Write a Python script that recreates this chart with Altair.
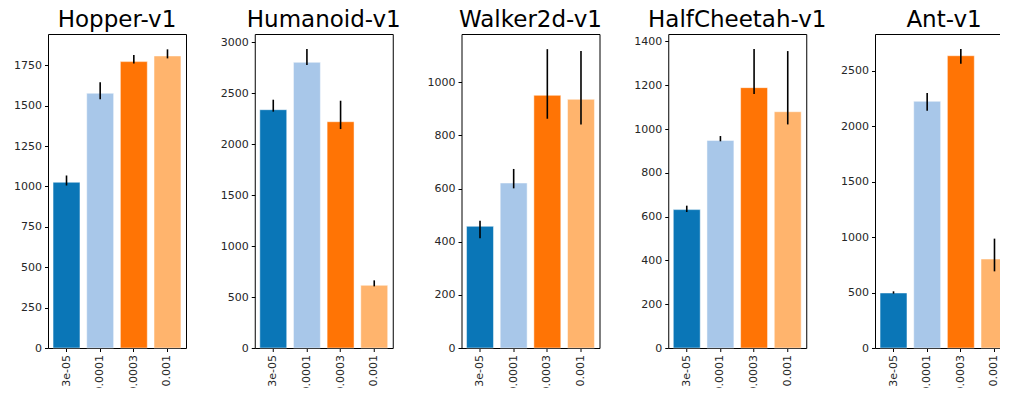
import altair as alt
import pandas as pd

envs = ["Hopper-v1", "Humanoid-v1", "Walker2d-v1", "HalfCheetah-v1", "Ant-v1"]
lrs = ["3e-05", "0.0001", "0.0003", "0.001"]
colors = ["#0a76b7", "#a8c7e9", "#ff7405", "#ffb46d"]

means = {
    "Hopper-v1": [1026, 1577, 1773, 1808],
    "Humanoid-v1": [2339, 2804, 2221, 615],
    "Walker2d-v1": [458, 621, 951, 936],
    "HalfCheetah-v1": [632, 948, 1189, 1079],
    "Ant-v1": [496, 2224, 2635, 802],
}
err_lo = {
    "Hopper-v1": [1006, 1540, 1762, 1793],
    "Humanoid-v1": [2320, 2778, 2149, 605],
    "Walker2d-v1": [413, 601, 863, 841],
    "HalfCheetah-v1": [621, 944, 1160, 1021],
    "Ant-v1": [490, 2139, 2563, 691],
}
err_hi = {
    "Hopper-v1": [1068, 1645, 1814, 1849],
    "Humanoid-v1": [2437, 2935, 2427, 664],
    "Walker2d-v1": [479, 674, 1125, 1118],
    "HalfCheetah-v1": [650, 968, 1365, 1356],
    "Ant-v1": [511, 2299, 2695, 986],
}
y_max = {
    "Hopper-v1": 1944,
    "Humanoid-v1": 3082,
    "Walker2d-v1": 1182,
    "HalfCheetah-v1": 1434,
    "Ant-v1": 2831,
}
y_ticks = {
    "Hopper-v1": [0, 250, 500, 750, 1000, 1250, 1500, 1750],
    "Humanoid-v1": [0, 500, 1000, 1500, 2000, 2500, 3000],
    "Walker2d-v1": [0, 200, 400, 600, 800, 1000],
    "HalfCheetah-v1": [0, 200, 400, 600, 800, 1000, 1200, 1400],
    "Ant-v1": [0, 500, 1000, 1500, 2000, 2500],
}

rows = []
for e in envs:
    for i, lr in enumerate(lrs):
        rows.append({"env": e, "lr": lr, "mean": means[e][i],
                     "lo": err_lo[e][i], "hi": err_hi[e][i]})
df = pd.DataFrame(rows)

FONT = "DejaVu Sans"


def panel(env):
    d = df[df["env"] == env]
    base = alt.Chart(d)
    x = alt.X("lr:N", sort=lrs, title=None,
              scale=alt.Scale(paddingInner=0.2, paddingOuter=0.15),
              axis=alt.Axis(labelAngle=-90, labelFont=FONT, labelFontSize=11,
                            labelColor="#262626", tickColor="#000000",
                            tickSize=3.5, labelPadding=3, domain=False,
                            labelBaseline="middle", labelAlign="right"))
    y_scale = alt.Scale(domain=[0, y_max[env]], nice=False, zero=True)
    bars = base.mark_bar(stroke="#ffffff", strokeWidth=0.8, strokeOpacity=0.6).encode(
        x=x,
        y=alt.Y("mean:Q", title=None, scale=y_scale,
                axis=alt.Axis(values=y_ticks[env], grid=False, domain=False,
                              format="d",
                              labelFont=FONT, labelFontSize=11,
                              labelColor="#262626", tickColor="#000000",
                              tickSize=3.5, labelPadding=3)),
        color=alt.Color("lr:N", scale=alt.Scale(domain=lrs, range=colors),
                        legend=None),
    )
    errs = base.mark_rule(color="#000000", strokeWidth=1.6).encode(
        x=alt.X("lr:N", sort=lrs),
        y=alt.Y("lo:Q", scale=y_scale),
        y2="hi:Q",
    )
    return alt.layer(bars, errs).properties(
        width=138, height=314,
        view=alt.ViewBackground(stroke="#000000", strokeWidth=1, fill="#ffffff"),
        title=alt.TitleParams(env, fontSize=23, font=FONT, fontWeight="normal",
                              color="#000000", offset=2, anchor="middle"),
    )


chart = alt.hconcat(*[panel(e) for e in envs], spacing=68.75, bounds="flush").properties(
    padding={"left": 5, "top": 0, "right": -14, "bottom": -6}
).configure_view(stroke="#000000", strokeWidth=1).configure(background="#ffffff")

chart.save("out.html", embed_options={"renderer": "svg", "actions": False})
